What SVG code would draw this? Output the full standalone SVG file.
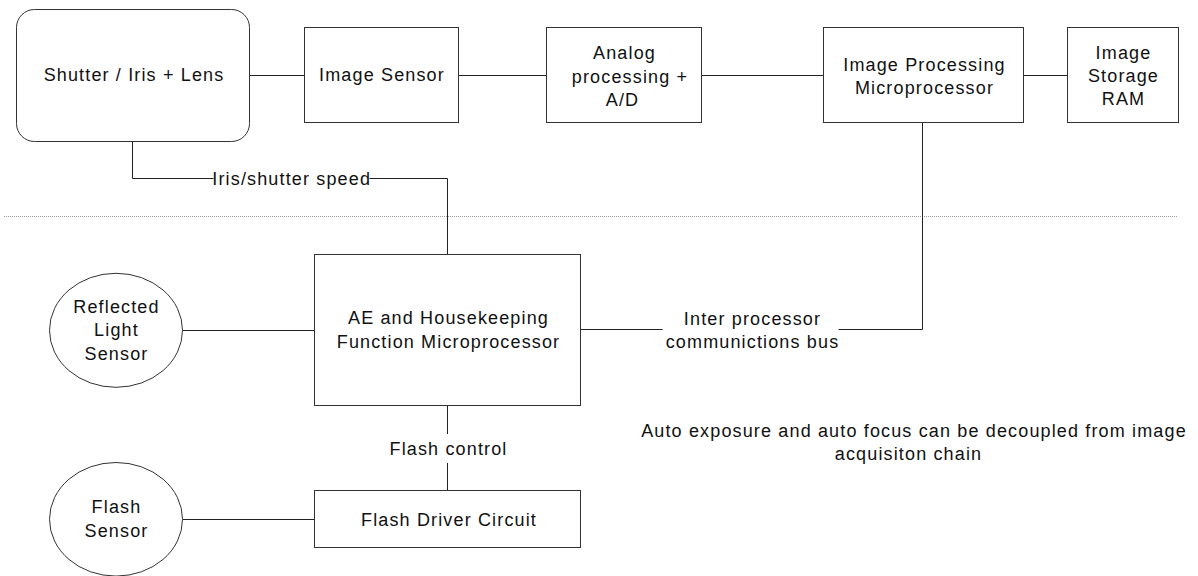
<svg xmlns="http://www.w3.org/2000/svg" width="1198" height="576" viewBox="0 0 1198 576">
  <style>
    .box { fill: #ffffff; stroke: #333333; stroke-width: 1; }
    .conn { fill: none; stroke: #222222; stroke-width: 1; }
    .sep { fill: none; stroke: #9a9a9a; stroke-width: 1; stroke-dasharray: 1 1; }
    text { font-family: "Liberation Sans", Arial, sans-serif; font-size: 18px; letter-spacing: 1.15px; fill: #111111; text-anchor: middle; }
  </style>
  <rect width="1198" height="576" fill="#ffffff"/>
  <line id="separator" class="sep" x1="4" y1="216.5" x2="1178" y2="216.5"/>
  <g id="connectors">
    <path class="conn" d="M249.5 75.5 H304.5"/>
    <path class="conn" d="M458.5 75.5 H546.5"/>
    <path class="conn" d="M701.5 75.5 H823.5"/>
    <path class="conn" d="M1023.5 75.5 H1067.5"/>
    <path class="conn" d="M132.5 141.5 V178.5 H213.5"/>
    <path class="conn" d="M369.5 178.5 H447.5 V254.5"/>
    <text x="291.7" y="185">Iris/shutter speed</text>
    <path class="conn" d="M922.5 122.5 V329.5 H838.5"/>
    <path class="conn" d="M580.5 329.5 H662.5"/>
    <text x="752.5" y="325">Inter processor</text>
    <text x="752.5" y="347.5">communictions bus</text>
    <path class="conn" d="M182.5 330.5 H314.5"/>
    <path class="conn" d="M447.5 405.5 V434"/>
    <path class="conn" d="M447.5 463 V490.5"/>
    <text x="448.5" y="455">Flash control</text>
    <path class="conn" d="M182.5 519.5 H314.5"/>
  </g>
  <g id="shutter">
    <rect class="box" x="16.5" y="9.5" width="233" height="132" rx="18" ry="18"/>
    <text x="134" y="81">Shutter / Iris + Lens</text>
  </g>
  <g id="image-sensor">
    <rect class="box" x="304.5" y="27.5" width="154" height="95"/>
    <text x="382" y="81">Image Sensor</text>
  </g>
  <g id="analog">
    <rect class="box" x="546.5" y="27.5" width="155" height="95"/>
    <text x="624.5" y="59.3">Analog</text>
    <text x="630" y="82.8">processing +</text>
    <text x="622.5" y="106.3">A/D</text>
  </g>
  <g id="image-processing">
    <rect class="box" x="823.5" y="27.5" width="200" height="95"/>
    <text x="924.5" y="70.7">Image Processing</text>
    <text x="924.5" y="94">Microprocessor</text>
  </g>
  <g id="image-storage">
    <rect class="box" x="1067.5" y="27.5" width="111" height="95"/>
    <text x="1123.5" y="59.3">Image</text>
    <text x="1123.5" y="82.3">Storage</text>
    <text x="1123.5" y="105.3">RAM</text>
  </g>
  <g id="ae-processor">
    <rect class="box" x="314.5" y="254.5" width="266" height="151"/>
    <text x="448.5" y="324.3">AE and Housekeeping</text>
    <text x="448.5" y="347.5">Function Microprocessor</text>
  </g>
  <g id="reflected-light-sensor">
    <ellipse class="box" cx="116" cy="330.3" rx="66.5" ry="57"/>
    <text x="116.5" y="313.3">Reflected</text>
    <text x="116.5" y="335.5">Light</text>
    <text x="116.5" y="359.5">Sensor</text>
  </g>
  <g id="flash-sensor">
    <ellipse class="box" cx="116" cy="519.3" rx="66.5" ry="56.8"/>
    <text x="116.5" y="513.3">Flash</text>
    <text x="116.5" y="536.5">Sensor</text>
  </g>
  <g id="flash-driver">
    <rect class="box" x="314.5" y="490.5" width="266" height="57"/>
    <text x="449" y="525.7">Flash Driver Circuit</text>
  </g>
  <g id="note">
    <text x="914" y="436.7">Auto exposure and auto focus can be decoupled from image</text>
    <text x="908.5" y="460">acquisiton chain</text>
  </g>
</svg>
